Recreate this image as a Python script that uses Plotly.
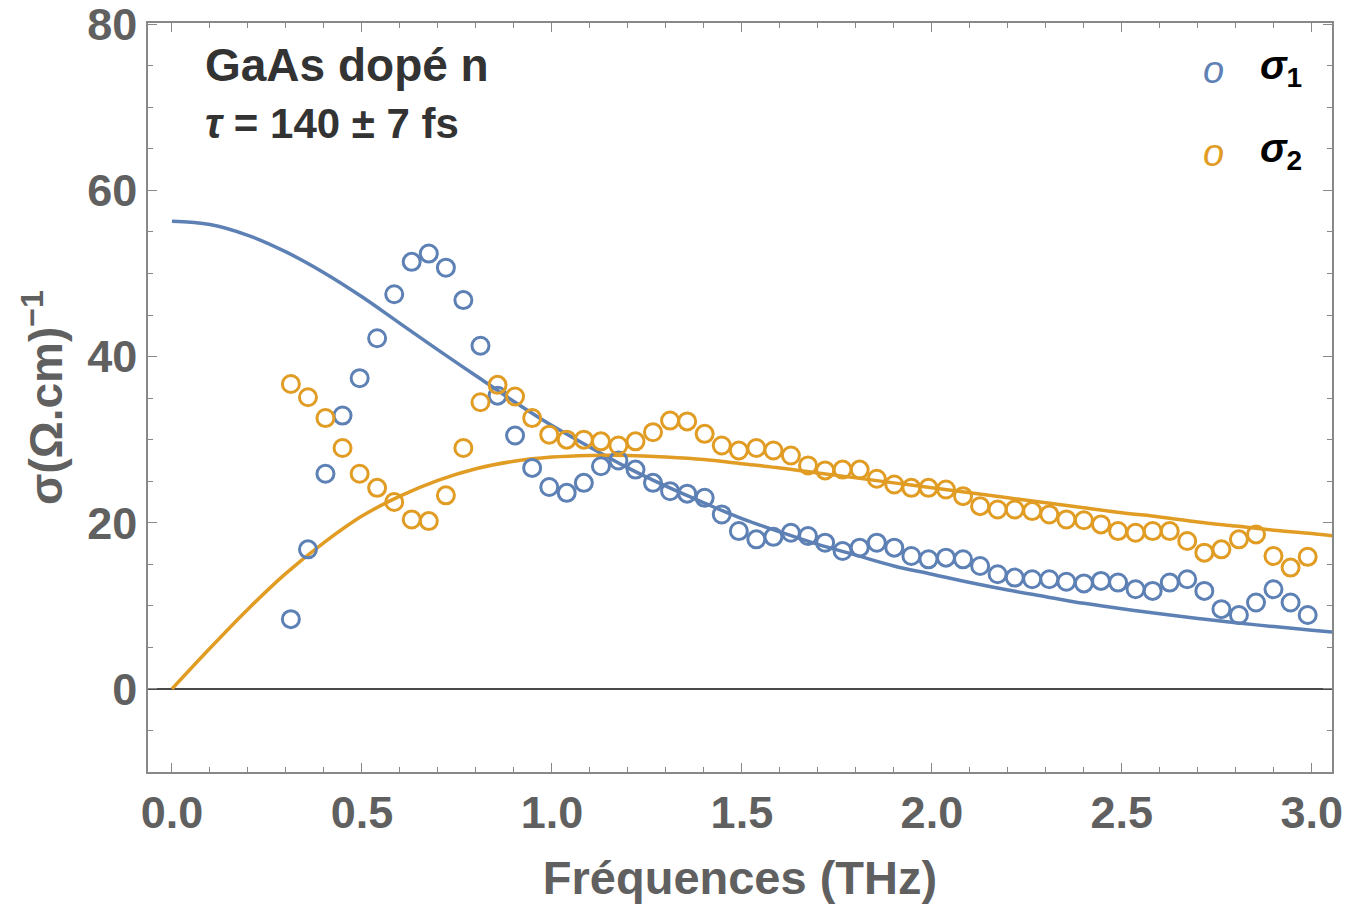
import plotly.graph_objects as go

# Measured frequencies (THz)
freq = [0.313, 0.358, 0.404, 0.449, 0.494, 0.540, 0.585, 0.631, 0.676, 0.721,
        0.767, 0.812, 0.857, 0.903, 0.948, 0.993, 1.039, 1.084, 1.129, 1.175,
        1.220, 1.266, 1.311, 1.356, 1.402, 1.447, 1.492, 1.538, 1.583, 1.629,
        1.674, 1.719, 1.765, 1.810, 1.855, 1.901, 1.946, 1.991, 2.037, 2.082,
        2.127, 2.173, 2.218, 2.264, 2.309, 2.354, 2.400, 2.445, 2.490, 2.536,
        2.581, 2.626, 2.672, 2.717, 2.762, 2.808, 2.853, 2.899, 2.944, 2.989]

sigma1 = [8.4, 16.8, 25.9, 32.9, 37.4, 42.2, 47.5, 51.4, 52.4, 50.7,
          46.8, 41.3, 35.3, 30.5, 26.6, 24.3, 23.6, 24.8, 26.8, 27.5,
          26.4, 24.8, 23.8, 23.5, 23.0, 21.0, 19.0, 18.0, 18.3, 18.8,
          18.4, 17.6, 16.6, 17.0, 17.6, 17.0, 16.0, 15.6, 15.8, 15.6,
          14.8, 13.8, 13.4, 13.2, 13.2, 12.9, 12.7, 13.0, 12.8, 12.0,
          11.8, 12.8, 13.2, 11.8, 9.6, 8.9, 10.4, 12.0, 10.4, 8.9]

sigma2 = [36.7, 35.1, 32.6, 29.0, 25.9, 24.2, 22.5, 20.4, 20.2, 23.3,
          29.0, 34.5, 36.6, 35.2, 32.6, 30.6, 30.0, 30.0, 29.8, 29.3,
          29.8, 30.9, 32.3, 32.2, 30.7, 29.3, 28.7, 29.0, 28.7, 28.1,
          26.9, 26.3, 26.4, 26.4, 25.3, 24.6, 24.2, 24.2, 24.0, 23.2,
          22.0, 21.6, 21.6, 21.4, 21.0, 20.4, 20.3, 19.8, 19.0, 18.8,
          19.0, 19.0, 17.8, 16.4, 16.8, 18.0, 18.6, 16.0, 14.6, 15.9]

# Fit curves (THz, (Ohm.cm)^-1)
fit_freq = [0.0, 0.1, 0.2, 0.3, 0.4, 0.5, 0.6, 0.7, 0.8, 0.9, 1.0,
            1.1, 1.2, 1.3, 1.4, 1.5, 1.6, 1.7, 1.8, 1.9, 2.0,
            2.1, 2.2, 2.3, 2.4, 2.5, 2.6, 2.7, 2.8, 2.9, 3.0, 3.06]
fit_sigma1 = [56.3, 55.9, 54.6, 52.6, 50.1, 47.2, 44.0, 40.8, 37.7, 34.6, 31.7,
              29.1, 26.6, 24.4, 22.4, 20.5, 18.9, 17.4, 16.1, 14.8, 13.8,
              12.8, 11.9, 11.1, 10.3, 9.65, 9.04, 8.48, 7.97, 7.50, 7.07, 6.83]
fit_sigma2 = [0.0, 4.9, 9.6, 13.9, 17.6, 20.8, 23.2, 25.1, 26.5, 27.4, 27.9,
              28.1, 28.1, 27.9, 27.6, 27.1, 26.6, 26.0, 25.4, 24.8, 24.2,
              23.6, 23.0, 22.4, 21.8, 21.2, 20.7, 20.1, 19.6, 19.1, 18.7, 18.4]

BLUE = "#5E81B5"
ORANGE = "#E19C24"
FONT = "Liberation Sans"
TICKCOL = "#606060"
FRAME = "#888888"

fig = go.Figure()

fig.add_trace(go.Scatter(x=fit_freq, y=fit_sigma1, mode="lines", line=dict(color=BLUE, width=3.5, shape="spline"),
                         name="fit σ1", showlegend=False, hoverinfo="skip"))
fig.add_trace(go.Scatter(x=fit_freq, y=fit_sigma2, mode="lines", line=dict(color=ORANGE, width=3.5, shape="spline"),
                         name="fit σ2", showlegend=False, hoverinfo="skip"))
fig.add_trace(go.Scatter(x=freq, y=sigma1, mode="markers", name="σ1", showlegend=False,
                         marker=dict(symbol="circle-open", size=17, color=BLUE, line=dict(width=3, color=BLUE))))
fig.add_trace(go.Scatter(x=freq, y=sigma2, mode="markers", name="σ2", showlegend=False,
                         marker=dict(symbol="circle-open", size=17, color=ORANGE, line=dict(width=3, color=ORANGE))))

axis_common = dict(
    showline=True, linecolor=FRAME, linewidth=1.5, mirror="ticks",
    ticks="inside", ticklen=9, tickwidth=1.2, tickcolor=FRAME,
    showgrid=False, ticklabeloverflow="allow",
    tickfont=dict(family=FONT, size=45, color=TICKCOL, weight="bold"),
)

fig.update_xaxes(
    range=[-0.063, 3.053], tick0=0, dtick=0.5, tickformat=".1f",
    minor=dict(ticks="inside", ticklen=5, dtick=0.1, tick0=0, tickcolor=FRAME, tickwidth=1, showgrid=False),
    zeroline=False,
    title=dict(text="<b>Fréquences (THz)</b>", font=dict(family=FONT, size=47, color=TICKCOL), standoff=26),
    **axis_common,
)
fig.update_yaxes(
    range=[-10, 80.15], tick0=0, dtick=20,
    minor=dict(ticks="inside", ticklen=5, dtick=5, tick0=0, tickcolor=FRAME, tickwidth=1, showgrid=False),
    zeroline=True, zerolinecolor="#4a4a4a", zerolinewidth=1.5,
    title=dict(text="<b>σ(Ω.cm)<sup>−1</sup></b>", font=dict(family=FONT, size=46, color=TICKCOL), standoff=10),
    **axis_common,
)

# page body has an 8px margin: figure is drawn at (8, 8)
fig.update_layout(
    width=1358, height=896,
    margin=dict(l=140, r=34, t=15, b=132, autoexpand=False),
    paper_bgcolor="white", plot_bgcolor="white",
    font=dict(family=FONT, color=TICKCOL),
    showlegend=False,
)

TOP, BOT, LEFT, RIGHT = 23.0, 772.0, 148.0, 1332.0


def px(xp):
    return (xp - LEFT) / (RIGHT - LEFT)


def py(yp):
    return (BOT - yp) / (BOT - TOP)


fig.add_annotation(xref="x domain", yref="y domain", x=px(203), y=py(65),
                   text="<b>GaAs dopé n</b>", showarrow=False, xanchor="left", yanchor="middle",
                   font=dict(family=FONT, size=46, color="#333333"))
fig.add_annotation(xref="x domain", yref="y domain", x=px(203), y=py(124),
                   text="<b><i>τ</i> = 140 ± 7 fs</b>", showarrow=False, xanchor="left", yanchor="middle",
                   font=dict(family=FONT, size=42, color="#333333"))

# Legend
fig.add_annotation(xref="x domain", yref="y domain", x=px(1213), y=py(70),
                   text="<i>o</i>", showarrow=False, xanchor="center", yanchor="middle",
                   font=dict(family=FONT, size=38, color=BLUE))
fig.add_annotation(xref="x domain", yref="y domain", x=px(1213), y=py(153),
                   text="<i>o</i>", showarrow=False, xanchor="center", yanchor="middle",
                   font=dict(family=FONT, size=38, color=ORANGE))
fig.add_annotation(xref="x domain", yref="y domain", x=px(1258), y=py(68),
                   text="<b><i>σ</i><sub>1</sub></b>", showarrow=False, xanchor="left", yanchor="middle",
                   font=dict(family=FONT, size=40, color="#000000"))
fig.add_annotation(xref="x domain", yref="y domain", x=px(1258), y=py(151),
                   text="<b><i>σ</i><sub>2</sub></b>", showarrow=False, xanchor="left", yanchor="middle",
                   font=dict(family=FONT, size=40, color="#000000"))

fig.write_html("out.html")
